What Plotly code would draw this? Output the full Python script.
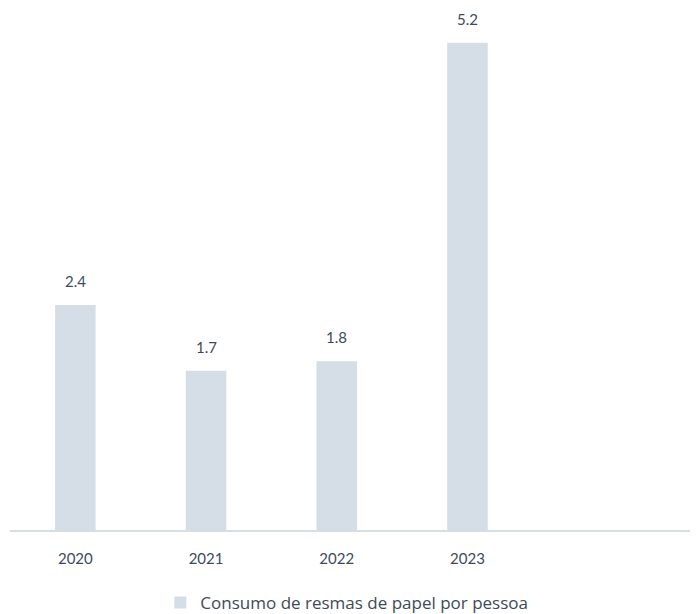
import plotly.graph_objects as go

years = ["2020", "2021", "2022", "2023"]
values = [2.4, 1.7, 1.8, 5.2]
labels = ["2.4", "1.7", "1.8", "5.2"]
series_name = "Consumo de resmas de papel por pessoa"

bar_color = "#D5DDE6"
text_color = "#3E4A5A"
font_family = "Lato, 'Noto Sans', sans-serif"

fig = go.Figure()
fig.add_trace(go.Bar(
    x=years, y=values, name=series_name,
    marker=dict(color=bar_color, line=dict(width=0)),
    width=0.31, showlegend=True,
))

for i, (y, t) in enumerate(zip(values, labels)):
    fig.add_annotation(x=i, y=y, text=t, showarrow=False, yanchor="bottom",
                       yshift=13, font=dict(size=15, color=text_color, family=font_family))

fig.update_layout(
    width=698, height=614,
    margin=dict(l=2, r=0, t=12, b=92),
    paper_bgcolor="white", plot_bgcolor="white",
    font=dict(family=font_family, color=text_color, size=15),
    showlegend=True,
    legend=dict(orientation="h", x=0.484, xanchor="center", y=-0.143, yanchor="middle",
                font=dict(size=17, color=text_color, family="'Open Sans', Lato, sans-serif")),
    xaxis=dict(type="category", range=[-0.5, 4.825], showgrid=False,
               showline=True, linecolor="#D5DDE6", linewidth=2,
               ticks="outside", ticklen=14, tickcolor="rgba(0,0,0,0)",
               tickfont=dict(size=15, color=text_color)),
    yaxis=dict(range=[0, 5.443], visible=False, showgrid=False, zeroline=False),
)

fig.write_html("out.html")
